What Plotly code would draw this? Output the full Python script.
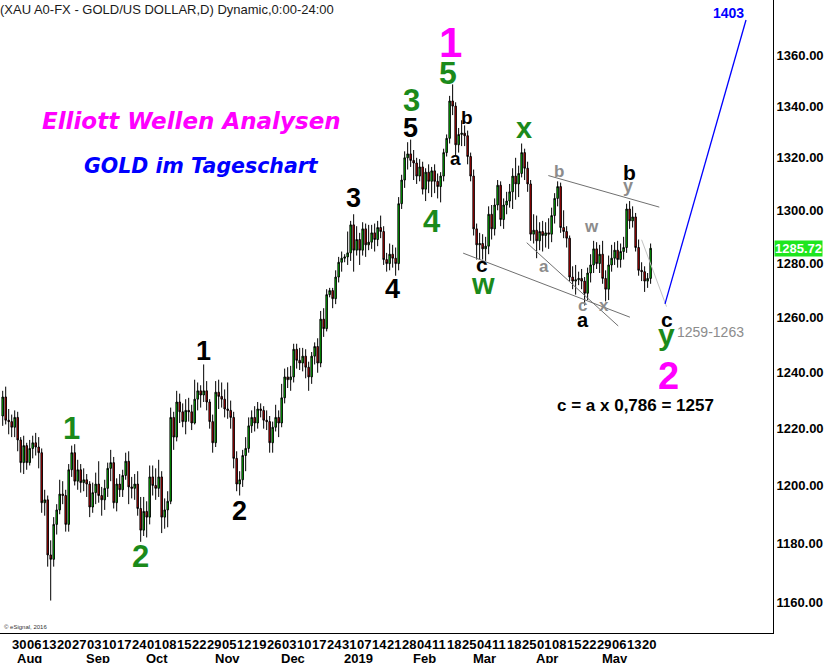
import math
import pandas as pd
import plotly.graph_objects as go

# ---------------- data ----------------
start_date = "2018-07-25"
end_date = "2019-05-23"

open_ = [
    1224.5, 1231.3, 1223.0,
    1222.5, 1220.5, 1224.0, 1216.0, 1208.0,
    1214.0, 1208.0, 1213.0, 1215.0, 1213.5,
    1211.5, 1194.0, 1195.0, 1176.0, 1174.5,
    1186.5, 1191.5, 1197.0, 1196.5, 1186.5,
    1205.5, 1211.5, 1201.5, 1205.5, 1201.0,
    1202.0, 1200.5, 1192.5, 1197.5, 1200.5,
    1196.5, 1195.0, 1199.0, 1206.0, 1208.0,
    1194.0, 1200.5, 1198.5, 1203.5, 1208.5,
    1199.5, 1199.0, 1200.5, 1192.0, 1184.5,
    1191.0, 1189.0, 1203.0, 1200.0, 1199.0,
    1203.0, 1189.0, 1191.5, 1194.5, 1224.0,
    1217.0, 1229.5, 1226.0, 1222.5, 1226.5,
    1226.0, 1222.0, 1230.5, 1233.5, 1232.0,
    1233.5, 1229.5, 1222.5, 1215.0, 1233.0,
    1231.5, 1230.5, 1227.0, 1226.5, 1224.0,
    1209.5, 1200.5, 1202.0, 1210.5, 1213.0,
    1221.0, 1224.0, 1222.0, 1227.0, 1226.5,
    1223.0, 1222.5, 1215.0, 1220.5, 1224.0,
    1222.0, 1231.0, 1238.5, 1237.5, 1238.5,
    1248.5, 1244.5, 1243.5, 1246.0, 1242.0,
    1238.5, 1246.0, 1249.5, 1243.5, 1259.5,
    1256.0, 1268.5, 1270.0, 1267.0, 1275.0,
    1280.5, 1282.0, 1282.5, 1284.0, 1294.5,
    1285.0, 1289.0, 1285.0, 1293.0, 1287.0,
    1288.0, 1291.5, 1289.0, 1293.5, 1292.0,
    1281.5, 1280.0, 1283.5, 1282.0, 1280.0,
    1302.5, 1311.5, 1320.0, 1321.5, 1319.0,
    1318.0, 1313.0, 1316.5, 1308.0, 1314.5,
    1311.0, 1315.0, 1311.0, 1309.0, 1313.0,
    1322.0, 1327.5, 1342.0, 1340.0, 1325.0,
    1329.0, 1329.5, 1328.5, 1320.5, 1313.0,
    1293.0, 1287.0, 1287.5, 1285.5, 1286.5,
    1298.5, 1293.0, 1302.0, 1309.5, 1296.5,
    1302.0, 1303.5, 1307.0, 1313.0, 1310.0,
    1314.0, 1322.0, 1316.0, 1310.0, 1291.0,
    1292.5, 1288.5, 1292.0, 1290.5, 1291.5,
    1291.0, 1298.0, 1304.5, 1309.0, 1293.5,
    1292.0, 1289.5, 1275.0, 1273.5, 1274.0,
    1274.5, 1273.5, 1269.0, 1276.5, 1279.5,
    1285.5, 1280.0, 1283.5, 1274.5, 1270.5,
    1279.5, 1282.0, 1285.0, 1281.5, 1284.5,
    1286.0, 1300.5, 1296.0, 1297.5, 1286.0,
    1277.5, 1277.0, 1273.5, 1274.5,
]
high = [
    1233.5, 1235.0, 1227.0,
    1225.0, 1226.5, 1226.0, 1217.0, 1217.5,
    1215.0, 1216.0, 1217.5, 1218.5, 1217.0,
    1213.0, 1198.5, 1196.5, 1181.0, 1189.0,
    1193.5, 1202.0, 1201.5, 1198.5, 1207.5,
    1214.0, 1214.5, 1209.0, 1207.5, 1206.0,
    1204.0, 1201.5, 1201.0, 1204.5, 1208.5,
    1199.5, 1202.0, 1208.0, 1212.5, 1210.0,
    1202.5, 1204.0, 1205.5, 1211.5, 1212.0,
    1203.0, 1204.0, 1205.0, 1196.0, 1196.0,
    1194.5, 1207.0, 1207.0, 1206.0, 1209.0,
    1205.0, 1195.5, 1198.0, 1227.5, 1226.0,
    1233.5, 1232.5, 1229.0, 1230.5, 1231.0,
    1228.5, 1237.5, 1236.5, 1235.5, 1243.0,
    1237.0, 1230.5, 1225.0, 1237.0, 1237.5,
    1236.5, 1234.0, 1236.5, 1230.0, 1226.0,
    1212.0, 1205.0, 1212.5, 1217.0, 1224.0,
    1226.5, 1228.0, 1229.5, 1229.0, 1228.0,
    1226.5, 1224.5, 1222.5, 1228.5, 1226.5,
    1236.0, 1241.5, 1242.0, 1242.5, 1250.5,
    1250.5, 1249.0, 1249.0, 1248.5, 1244.0,
    1247.5, 1251.0, 1252.5, 1262.5, 1263.5,
    1270.5, 1271.0, 1271.0, 1277.5, 1282.5,
    1284.5, 1283.5, 1292.0, 1296.0, 1298.5,
    1294.0, 1291.5, 1295.5, 1295.0, 1294.5,
    1294.5, 1295.0, 1296.0, 1298.0, 1294.0,
    1284.0, 1287.5, 1287.0, 1286.0, 1305.0,
    1313.5, 1322.5, 1326.0, 1327.0, 1323.0,
    1320.0, 1319.5, 1318.5, 1316.0, 1317.5,
    1316.5, 1317.5, 1314.0, 1314.5, 1323.5,
    1329.0, 1344.0, 1348.5, 1341.5, 1331.5,
    1334.5, 1332.5, 1330.5, 1322.0, 1315.5,
    1295.0, 1291.5, 1291.0, 1290.0, 1301.5,
    1302.0, 1304.5, 1311.5, 1311.0, 1304.5,
    1307.0, 1310.0, 1316.0, 1320.0, 1317.0,
    1325.5, 1323.5, 1318.5, 1311.5, 1298.5,
    1298.0, 1295.5, 1296.0, 1295.5, 1297.0,
    1301.0, 1306.5, 1311.0, 1310.5, 1300.0,
    1294.0, 1290.5, 1279.0, 1279.5, 1277.0,
    1278.0, 1275.0, 1278.5, 1283.5, 1288.5,
    1288.0, 1287.0, 1288.5, 1277.5, 1283.0,
    1287.0, 1288.0, 1288.5, 1287.5, 1290.0,
    1302.5, 1303.5, 1301.5, 1299.0, 1289.0,
    1280.5, 1279.0, 1276.5, 1287.5,
]
low = [
    1221.0, 1221.5, 1218.0,
    1217.0, 1217.0, 1212.0, 1204.5, 1204.0,
    1205.5, 1207.0, 1209.5, 1210.5, 1206.0,
    1190.5, 1189.5, 1172.0, 1160.5, 1172.0,
    1183.0, 1190.0, 1193.5, 1184.0, 1184.0,
    1203.0, 1200.0, 1198.5, 1197.5, 1198.0,
    1196.0, 1189.0, 1190.5, 1193.5, 1194.0,
    1189.5, 1191.5, 1196.0, 1201.5, 1192.0,
    1191.0, 1196.0, 1196.0, 1202.0, 1193.5,
    1195.5, 1195.0, 1189.5, 1180.5, 1182.5,
    1182.0, 1186.5, 1196.5, 1195.0, 1196.0,
    1183.5, 1185.0, 1185.5, 1193.5, 1212.5,
    1215.5, 1222.0, 1220.5, 1218.0, 1222.5,
    1219.5, 1221.5, 1226.5, 1227.5, 1229.5,
    1226.5, 1220.0, 1211.5, 1213.5, 1227.0,
    1227.5, 1224.0, 1223.5, 1220.0, 1206.0,
    1198.0, 1196.5, 1199.5, 1205.0, 1211.5,
    1218.5, 1219.0, 1220.0, 1224.0, 1220.0,
    1219.5, 1211.5, 1211.5, 1219.0, 1217.0,
    1220.5, 1229.0, 1234.5, 1233.5, 1236.5,
    1241.5, 1241.0, 1240.5, 1238.0, 1233.5,
    1236.0, 1243.0, 1240.0, 1242.0, 1253.0,
    1255.0, 1267.5, 1263.5, 1265.0, 1273.0,
    1277.0, 1280.5, 1279.5, 1281.0, 1277.0,
    1283.0, 1279.5, 1283.0, 1282.5, 1285.0,
    1285.5, 1284.5, 1286.5, 1289.5, 1279.5,
    1277.0, 1277.5, 1278.5, 1275.5, 1277.5,
    1300.5, 1308.5, 1315.5, 1316.5, 1311.5,
    1310.0, 1311.0, 1306.0, 1303.5, 1306.5,
    1305.0, 1306.5, 1304.5, 1303.0, 1311.0,
    1320.5, 1325.5, 1336.5, 1321.0, 1322.0,
    1324.5, 1324.5, 1317.5, 1311.0, 1290.5,
    1281.5, 1281.5, 1281.5, 1281.0, 1283.5,
    1289.0, 1290.5, 1300.0, 1294.0, 1293.0,
    1298.5, 1301.0, 1300.5, 1304.0, 1305.0,
    1312.5, 1311.5, 1307.0, 1288.5, 1287.5,
    1282.0, 1285.0, 1284.5, 1286.0, 1285.5,
    1288.0, 1295.0, 1301.5, 1291.5, 1289.5,
    1286.0, 1273.5, 1270.5, 1268.5, 1272.0,
    1270.5, 1264.5, 1266.5, 1273.0, 1276.5,
    1278.0, 1276.5, 1272.5, 1266.0, 1266.5,
    1277.0, 1279.5, 1278.5, 1278.5, 1281.5,
    1284.0, 1293.0, 1293.5, 1284.5, 1275.5,
    1273.5, 1269.5, 1271.0, 1272.5,
]
close = [
    1231.3, 1223.0, 1222.5,
    1220.5, 1224.0, 1216.0, 1208.0, 1214.0,
    1208.0, 1213.0, 1215.0, 1213.5, 1211.5,
    1194.0, 1195.0, 1176.0, 1174.5, 1186.5,
    1191.5, 1197.0, 1196.5, 1186.5, 1205.5,
    1211.5, 1201.5, 1205.5, 1201.0, 1202.0,
    1200.5, 1192.5, 1197.5, 1200.5, 1196.5,
    1195.0, 1199.0, 1206.0, 1208.0, 1194.0,
    1200.5, 1198.5, 1203.5, 1208.5, 1199.5,
    1199.0, 1200.5, 1192.0, 1184.5, 1191.0,
    1189.0, 1203.0, 1200.0, 1199.0, 1203.0,
    1189.0, 1191.5, 1194.5, 1224.0, 1217.0,
    1229.5, 1226.0, 1222.5, 1226.5, 1226.0,
    1222.0, 1230.5, 1233.5, 1232.0, 1233.5,
    1229.5, 1222.5, 1215.0, 1233.0, 1231.5,
    1230.5, 1227.0, 1226.5, 1224.0, 1209.5,
    1200.5, 1202.0, 1210.5, 1213.0, 1221.0,
    1224.0, 1222.0, 1227.0, 1226.5, 1223.0,
    1222.5, 1215.0, 1220.5, 1224.0, 1222.0,
    1231.0, 1238.5, 1237.5, 1238.5, 1248.5,
    1244.5, 1243.5, 1246.0, 1242.0, 1238.5,
    1246.0, 1249.5, 1243.5, 1259.5, 1256.0,
    1268.5, 1270.0, 1267.0, 1275.0, 1280.5,
    1282.0, 1282.5, 1284.0, 1294.5, 1285.0,
    1289.0, 1285.0, 1293.0, 1287.0, 1288.0,
    1291.5, 1289.0, 1293.5, 1292.0, 1281.5,
    1280.0, 1283.5, 1282.0, 1280.0, 1302.5,
    1311.5, 1320.0, 1321.5, 1319.0, 1318.0,
    1313.0, 1316.5, 1308.0, 1314.5, 1311.0,
    1315.0, 1311.0, 1309.0, 1313.0, 1322.0,
    1327.5, 1342.0, 1340.0, 1325.0, 1329.0,
    1329.5, 1328.5, 1320.5, 1313.0, 1293.0,
    1287.0, 1287.5, 1285.5, 1286.5, 1298.5,
    1293.0, 1302.0, 1309.5, 1296.5, 1302.0,
    1303.5, 1307.0, 1313.0, 1310.0, 1314.0,
    1322.0, 1316.0, 1310.0, 1291.0, 1292.5,
    1288.5, 1292.0, 1290.5, 1291.5, 1291.0,
    1298.0, 1304.5, 1309.0, 1293.5, 1292.0,
    1289.5, 1275.0, 1273.5, 1274.0, 1274.5,
    1273.5, 1269.0, 1276.5, 1279.5, 1285.5,
    1280.0, 1283.5, 1274.5, 1270.5, 1279.5,
    1282.0, 1285.0, 1281.5, 1284.5, 1286.0,
    1300.5, 1296.0, 1297.5, 1286.0, 1277.5,
    1277.0, 1273.5, 1274.5, 1285.72,
]

week_labels = ["30", "06", "13", "20", "27", "03", "10", "17", "24", "01", "08",
               "15", "22", "29", "05", "12", "19", "26", "03", "10", "17", "24",
               "31", "07", "14", "21", "28", "04", "11", "18", "25", "04", "11",
               "18", "25", "01", "08", "15", "22", "29", "06", "13", "20"]
month_labels = ["Aug", "Sep", "Oct", "Nov", "Dec", "2019", "Feb", "Mar", "Apr", "May"]
y_ticks = [1160, 1180, 1200, 1220, 1240, 1260, 1280, 1300, 1320, 1340, 1360, 1380]
last_price = 1285.72

# trend / channel lines: (x index, price) end points
upper_channel = ([181.9, 218.9], [1313.2, 1301.2])
lower_channel = ([153.5, 209.1], [1283.9, 1260.2])
wedge_line = ([174.7, 205.2], [1287.8, 1257.0])
light_line = ([213.0, 221.3], [1288.9, 1264.1])
target_line = ([220.8, 247.8], [1265.1, 1374.0])

# ---------------- figure ----------------
dates = pd.bdate_range(start_date, end_date)
xi = list(range(len(dates)))

ARIAL = "Arial, Liberation Sans, sans-serif"
VERD = "DejaVu Sans, Verdana, sans-serif"
GREEN = "#1b8a1b"
MAG = "#ff00ff"
GRAY = "#8c8c8c"

fig = go.Figure()
fig.add_trace(go.Candlestick(
    x=xi, open=open_, high=high, low=low, close=close,
    increasing=dict(fillcolor="#00f000", line=dict(color="black", width=1)),
    decreasing=dict(fillcolor="#f00000", line=dict(color="black", width=1)),
    whiskerwidth=0, showlegend=False, hoverinfo="skip",
))

def add_line(pts, color, width):
    fig.add_trace(go.Scatter(x=pts[0], y=pts[1], mode="lines",
                             line=dict(color=color, width=width),
                             showlegend=False, hoverinfo="skip"))

add_line(upper_channel, "#707070", 1)
add_line(lower_channel, "#707070", 1)
add_line(wedge_line, "#707070", 1)
add_line(light_line, "#c4c4c4", 1)
add_line(target_line, "#0000ff", 1.3)

ann = []

# wave labels: text, x index, price, color, size, yshift
waves = [
    ("1", 149.4, 1364.9, MAG, 42, 0),
    ("5", 148.4, 1353.0, GREEN, 32, 0),
    ("3", 136.4, 1342.0, GREEN, 31, 0),
    ("5", 135.8, 1331.5, "black", 27, 0),
    ("3", 116.8, 1304.7, "black", 27, 0),
    ("4", 143.1, 1295.6, GREEN, 31, 0),
    ("4", 129.8, 1270.6, "black", 27, 0),
    ("1", 66.8, 1247.9, "black", 27, 0),
    ("2", 78.8, 1191.1, "black", 27, 0),
    ("1", 23.1, 1220.2, GREEN, 31, 0),
    ("2", 46.1, 1175.3, GREEN, 31, 0),
    ("b", 154.8, 1335.4, "black", 19, 0),
    ("a", 150.8, 1318.8, "black", 19, 2),
    ("x", 173.8, 1330.4, GREEN, 29, 3),
    ("c", 159.8, 1278.8, "black", 21, 2),
    ("w", 160.1, 1271.4, GREEN, 29, 3),
    ("b", 185.4, 1314.6, GRAY, 17, 0),
    ("b", 208.8, 1314.2, "black", 21, 0),
    ("y", 208.4, 1307.8, GRAY, 18, 4),
    ("w", 196.4, 1293.0, GRAY, 17, 2),
    ("a", 180.4, 1278.0, GRAY, 17, 2),
    ("c", 193.4, 1263.9, GRAY, 17, 2),
    ("x", 200.4, 1263.9, GRAY, 17, 2),
    ("a", 193.4, 1258.5, "black", 20, 2),
    ("c", 221.4, 1258.5, "black", 21, 2),
    ("y", 221.4, 1251.5, GREEN, 30, 7),
    ("2", 221.8, 1238.9, MAG, 38, 0),
]
for t, x, p, c, s, ys in waves:
    ann.append(dict(x=x, y=math.log10(p), xref="x", yref="y", text=f"<b>{t}</b>",
                    showarrow=False, xanchor="center", yanchor="middle", yshift=ys,
                    font=dict(family=ARIAL, size=s, color=c)))

ann.append(dict(x=236.1, y=math.log10(1254.8), xref="x", yref="y", text="1259-1263",
                xanchor="center", showarrow=False,
                font=dict(family=ARIAL, size=14, color=GRAY)))
ann.append(dict(x=210.8, y=math.log10(1228.4), xref="x", yref="y",
                text="<b>c = a x 0,786 = 1257</b>", xanchor="center",
                showarrow=False, font=dict(family=ARIAL, size=17, color="black")))
ann.append(dict(x=241.8, y=math.log10(1376.8), xref="x", yref="y", text="<b>1403</b>",
                xanchor="center", showarrow=False,
                font=dict(family=ARIAL, size=14, color="#0000ff")))

# titles
ann.append(dict(x=0, y=1, xref="paper", yref="paper", xanchor="left", yanchor="top",
                text="(XAU A0-FX - GOLD/US DOLLAR,D) Dynamic,0:00-24:00", showarrow=False,
                font=dict(family=ARIAL, size=13, color="#1a1a1a"), xshift=-2))
ann.append(dict(x=191 / 773, y=1 - 121 / 633, xref="paper", yref="paper",
                xanchor="center", yanchor="middle",
                text="<b><i>Elliott Wellen Analysen</i></b>", showarrow=False,
                font=dict(family=VERD, size=23, color=MAG)))
ann.append(dict(x=201 / 773, y=1 - 166 / 633, xref="paper", yref="paper",
                xanchor="center", yanchor="middle",
                text="<b><i>GOLD im Tageschart</i></b>", showarrow=False,
                font=dict(family=VERD, size=20.5, color="#0000ff")))
ann.append(dict(x=2 / 773, y=1 - 627 / 633, xref="paper", yref="paper", xanchor="left",
                yanchor="middle", text="© eSignal, 2016", showarrow=False,
                font=dict(family=ARIAL, size=6, color="#333333")))

# last price tag
ann.append(dict(x=1.0, y=math.log10(last_price), xref="paper", yref="y", xanchor="left",
                yanchor="middle", xshift=1, text=f"<b>{last_price:.2f}</b>",
                showarrow=False, bgcolor="#1ee61e", borderpad=0,
                font=dict(family=ARIAL, size=13, color="white")))

# x-axis labels (weeks and months)
mondays = [i for i, d in enumerate(dates) if d.weekday() == 0]
for i, lab in zip(mondays, week_labels):
    ann.append(dict(x=i, y=-11 / 633, xref="x", yref="paper", xanchor="left",
                    yanchor="middle", text=f"<b>{lab}</b>", showarrow=False, xshift=-2,
                    font=dict(family=ARIAL, size=13, color="black")))
month_starts = [i for i in range(1, len(dates)) if dates[i].month != dates[i - 1].month]
for i, lab in zip(month_starts, month_labels):
    ann.append(dict(x=i, y=-25 / 633, xref="x", yref="paper", xanchor="left",
                    yanchor="middle", text=f"<b>{lab}</b>", showarrow=False, xshift=-3,
                    font=dict(family=ARIAL, size=13, color="black")))

fig.update_layout(
    width=826, height=663,
    margin=dict(l=0, r=53, t=0, b=30),
    paper_bgcolor="white", plot_bgcolor="white",
    showlegend=False,
    annotations=ann,
    xaxis=dict(range=[-0.9, 256.8], showticklabels=False, showgrid=False, zeroline=False,
               showline=True, linecolor="black", linewidth=1, ticks="",
               rangeslider=dict(visible=False)),
    yaxis=dict(type="log", range=[math.log10(1149.6), math.log10(1382.0)], side="right",
               tickvals=y_ticks, ticktext=[f"<b>{v:.2f}</b>" for v in y_ticks],
               tickfont=dict(family=ARIAL, size=13, color="black"),
               showgrid=False, zeroline=False, showline=True, linecolor="black",
               linewidth=1, ticks=""),
)

fig.write_html("out.html", config={"displayModeBar": False},
               post_script="document.body.style.margin='0px';document.body.style.overflow='hidden';")
